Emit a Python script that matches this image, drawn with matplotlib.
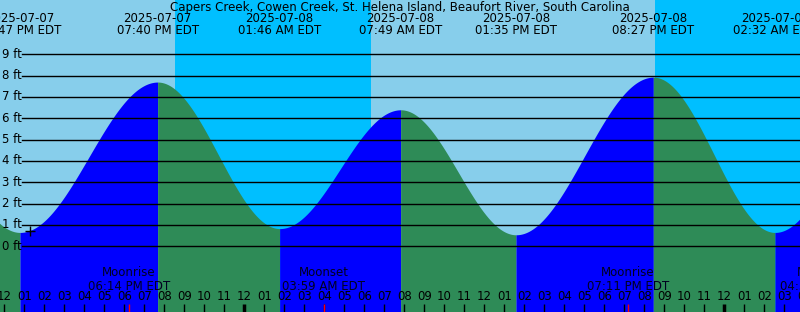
import numpy as np
import pandas as pd
import matplotlib
matplotlib.use("Agg")
import matplotlib.pyplot as plt

# tide extremes (first and last are just outside the view)
tide_times = ["2025-07-07 06:35", "2025-07-07 12:47", "2025-07-07 19:40",
              "2025-07-08 01:46", "2025-07-08 07:49", "2025-07-08 13:35",
              "2025-07-08 20:27", "2025-07-09 02:32", "2025-07-09 08:45"]
tide_heights = [7.2, 0.65, 7.7, 0.83, 6.4, 0.54, 7.93, 0.65, 7.3]

moon_times = ["2025-07-07 18:14", "2025-07-08 03:59", "2025-07-08 19:11", "2025-07-09 04:52"]
moon_names = ["Moonrise", "Moonset", "Moonrise", "Moonset"]

night_start = ["2025-07-07 20:32", "2025-07-08 20:31"]
night_end = ["2025-07-08 06:20", "2025-07-09 06:00"]

now_time = "2025-07-07 13:17"
now_height = 0.72

title = "Capers Creek, Cowen Creek, St. Helena Island, Beaufort River, South Carolina"
grid_levels = list(range(0, 10))

origin = pd.Timestamp("2025-07-07 12:00")


def hours(s):
    return (pd.Timestamp(s) - origin).total_seconds() / 3600.0


W, H = 800, 312
PX_HOUR, X0 = 20.0, 4.3          # pixel position of noon and px per hour
PX_FT, Y0 = 21.33, 246.3         # pixel row of 0 ft and px per foot

fig = plt.figure(figsize=(W / 100, H / 100), dpi=100)
ax = fig.add_axes([0, 0, 1, 1])
xmin = -X0 / PX_HOUR
xmax = (W - X0) / PX_HOUR
ymin = -(H - Y0) / PX_FT
ymax = Y0 / PX_FT
ax.set_xlim(xmin, xmax)
ax.set_ylim(ymin, ymax)
ax.axis("off")

# day / night background
ax.axvspan(xmin, xmax, color="#87ceeb", zorder=0, lw=0)
for a, b in zip(night_start, night_end):
    ax.axvspan(hours(a), hours(b), color="#00bfff", zorder=0.5, lw=0)

# tide curve, cosine between extremes
th = [hours(t) for t in tide_times]
for i in range(len(th) - 1):
    t = np.linspace(th[i], th[i + 1], 200)
    h = tide_heights[i] + (tide_heights[i + 1] - tide_heights[i]) * \
        (1 - np.cos(np.pi * (t - th[i]) / (th[i + 1] - th[i]))) / 2
    col = "#0000ff" if tide_heights[i + 1] > tide_heights[i] else "#2e8b57"
    ax.fill_between(t, ymin, h, color=col, lw=0, zorder=1)

# horizontal grid + labels
gx = (22 - X0) / PX_HOUR
for lv in grid_levels:
    ax.plot([gx, xmax], [lv, lv], color="black", lw=1.0, zorder=2)
    ax.text(xmin + 2 / PX_HOUR, lv, f"{lv} ft", fontsize=8.5, ha="left",
            va="center", zorder=3)

tr = ax.get_xaxis_transform()


def fy(py):
    return 1 - py / H


ax.text(0.5, fy(7), title, transform=ax.transAxes, fontsize=8.5,
        ha="center", va="center", zorder=4)

# tide event labels
for t in tide_times:
    x = hours(t)
    if xmin - 3 < x < xmax + 3:
        ts = pd.Timestamp(t)
        ax.text(x, fy(18), ts.strftime("%Y-%m-%d"), transform=tr, fontsize=8.5,
                ha="center", va="center", zorder=4)
        ax.text(x, fy(31), ts.strftime("%I:%M %p") + " EDT", transform=tr,
                fontsize=8.5, ha="center", va="center", zorder=4)

# moon events
for t, name in zip(moon_times, moon_names):
    x = hours(t)
    ts = pd.Timestamp(t)
    ax.text(x, fy(273), name, transform=tr, fontsize=8.5, ha="center",
            va="center", color="#000020", zorder=4)
    ax.text(x, fy(286), ts.strftime("%I:%M %p") + " EDT", transform=tr,
            fontsize=8.5, ha="center", va="center", color="#000020", zorder=4)
    ax.plot([x, x], [fy(304), fy(312)], transform=tr, color="red", lw=1.0,
            zorder=5, solid_capstyle="butt")

# hour ticks
for hr in range(0, 41):
    x = hr
    hh = (12 + hr) % 12
    lab = "12" if hh == 0 else f"{hh:02d}"
    ax.text(x, fy(297), lab, transform=tr, fontsize=8.5, ha="center",
            va="center", zorder=4)
    midnight = (12 + hr) % 24 == 0
    ax.plot([x, x], [fy(304), fy(312)], transform=tr, color="black",
            lw=2.5 if midnight else 1.0, zorder=4, solid_capstyle="butt")

# current time marker
ax.plot([hours(now_time)], [now_height], marker="+", color="black", ms=7,
        mew=1.0, zorder=5)

fig.savefig("out.png", dpi=100)
